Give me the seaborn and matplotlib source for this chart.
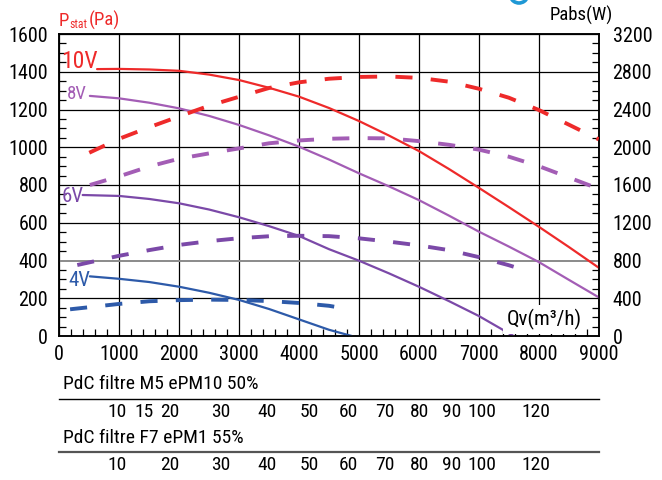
import matplotlib
matplotlib.use("Agg")
import matplotlib.pyplot as plt
from matplotlib import font_manager
from matplotlib.ticker import MultipleLocator
from matplotlib.patches import Arc
from matplotlib.transforms import IdentityTransform
import pandas as pd
import seaborn as sns

# ---------------- static pressure curves (Pa) vs air flow (m3/h) ----------------
qv_10v = [630, 1000, 1500, 2000, 2500, 3000, 3500, 4000, 4500, 5000, 5500, 6000,
          6500, 7000, 7500, 8000, 8500, 9000]
pstat_10v = [1414, 1415, 1412, 1405, 1385, 1356, 1315, 1268, 1208, 1139, 1062, 980,
             885, 785, 683, 579, 472, 362]

qv_8v = [510, 1000, 1500, 2000, 2500, 3000, 3500, 4000, 4500, 5000, 5500, 6000,
         6500, 7000, 7500, 8000, 8500, 9000]
pstat_8v = [1272, 1259, 1236, 1206, 1166, 1118, 1063, 1003, 935, 862, 793, 720,
            638, 553, 474, 392, 298, 205]

qv_6v = [390, 1000, 1500, 2000, 2500, 3000, 3500, 4000, 4500, 5000, 5500, 6000,
         6500, 7000, 7580]
pstat_6v = [747, 742, 726, 703, 670, 629, 582, 530, 460, 399, 332, 261, 185, 106, 0]

qv_4v = [510, 1000, 1500, 2000, 2500, 3000, 3500, 4000, 4500, 4880]
pstat_4v = [316, 303, 286, 261, 229, 191, 143, 88, 33, 0]

# ---------------- absorbed power curves (W) vs air flow (m3/h) ----------------
qv_pabs_10v = [500, 1000, 1500, 2000, 2500, 3000, 3500, 4000, 4500, 5000, 5500, 6000,
               6500, 7000, 7500, 8000, 8500, 9000]
pabs_10v = [1942, 2090, 2212, 2327, 2440, 2535, 2628, 2688, 2726, 2745, 2750, 2735,
            2695, 2620, 2525, 2395, 2240, 2084]

qv_pabs_8v = [510, 1000, 1500, 2000, 2500, 3000, 3500, 4000, 4500, 5000, 5500, 6000,
              6500, 7000, 7500, 8000, 8500, 9000]
pabs_8v = [1600, 1692, 1796, 1879, 1935, 1988, 2042, 2072, 2090, 2097, 2094, 2065,
           2026, 1975, 1900, 1800, 1680, 1560]

qv_pabs_6v = [300, 1000, 1500, 2000, 2500, 3000, 3500, 4000, 4500, 5000, 5500, 6000,
              6500, 7000, 7500, 7650]
pabs_6v = [752, 850, 910, 965, 1005, 1036, 1057, 1062, 1058, 1035, 1000, 960,
           910, 836, 750, 720]

qv_pabs_4v = [180, 1000, 1500, 2000, 2500, 3000, 3500, 4000, 4500, 4750]
pabs_4v = [283, 340, 368, 380, 385, 382, 370, 350, 320, 293]

# ---------------- filter pressure-drop scales ----------------
m5_pdc = ["10", "15", "20", "30", "40", "50", "60", "70", "80", "90", "100", "120"]
m5_qv = [968, 1413, 1848, 2693, 3461, 4172, 4822, 5436, 6007, 6551, 7043, 7946]
f7_pdc = ["10", "", "20", "30", "40", "50", "60", "70", "80", "90", "100", "120"]
f7_qv = [968, 1413, 1848, 2693, 3461, 4172, 4822, 5436, 6007, 6551, 7043, 7946]

curve_names = ["10V", "8V", "6V", "4V"]
x_ticks = [0, 1000, 2000, 3000, 4000, 5000, 6000, 7000, 8000, 9000]
y_ticks = [0, 200, 400, 600, 800, 1000, 1200, 1400, 1600]
y2_ticks = [0, 400, 800, 1200, 1600, 2000, 2400, 2800, 3200]

COLORS = {"10V": "#ee2a2a", "8V": "#a35db5", "6V": "#7b49a8", "4V": "#2d5aa9"}

sns.set_theme(style="white")


def pick_font():
    for fam in ["Liberation Sans Narrow", "Roboto Condensed", "DejaVu Sans"]:
        try:
            font_manager.findfont(font_manager.FontProperties(family=fam),
                                  fallback_to_default=False)
            return fam
        except Exception:
            continue
    return "DejaVu Sans"


FONT = pick_font()
plt.rcParams["font.family"] = [FONT, "DejaVu Sans"]
plt.rcParams["axes.edgecolor"] = "black"
plt.rcParams["xtick.color"] = "black"
plt.rcParams["ytick.color"] = "black"
plt.rcParams["text.color"] = "black"

W, H = 662, 480
fig = plt.figure(figsize=(W / 100, H / 100), dpi=100)
fig.patch.set_facecolor("white")


def fx(px):
    return px / W


def fy(py):
    return 1 - py / H


X0, X1, Y0, Y1 = 59.3, 598.7, 336.0, 34.0
ax = fig.add_axes([fx(X0), fy(Y0), fx(X1) - fx(X0), fy(Y1) - fy(Y0)])
ax2 = ax.twinx()

solid = {"10V": (qv_10v, pstat_10v), "8V": (qv_8v, pstat_8v),
         "6V": (qv_6v, pstat_6v), "4V": (qv_4v, pstat_4v)}
dashed = {"10V": (qv_pabs_10v, pabs_10v), "8V": (qv_pabs_8v, pabs_8v),
          "6V": (qv_pabs_6v, pabs_6v), "4V": (qv_pabs_4v, pabs_4v)}

for name in curve_names:
    q, p = solid[name]
    df = pd.DataFrame({"qv": q, "val": p})
    sns.lineplot(data=df, x="qv", y="val", ax=ax, color=COLORS[name], lw=1.6,
                 errorbar=None, zorder=3)
    q, p = dashed[name]
    df = pd.DataFrame({"qv": q, "val": p})
    sns.lineplot(data=df, x="qv", y="val", ax=ax2, color=COLORS[name], lw=2.8,
                 linestyle=(0, (4.4, 4.7)), errorbar=None, zorder=3)

# pressure axis (left)
ax.set_xlim(0, 9000)
ax.set_ylim(0, 1600)
ax.set_xticks(x_ticks)
ax.set_yticks(y_ticks)
ax.xaxis.set_minor_locator(MultipleLocator(200))
ax.yaxis.set_minor_locator(MultipleLocator(50))
ax.set_xlabel("")
ax.set_ylabel("")
ax.tick_params(which="major", length=0, labelsize=14.5)
ax.tick_params(axis="x", which="major", pad=6.5)
ax.tick_params(axis="y", which="major", pad=8)
ax.tick_params(which="minor", direction="in", length=5, width=0.9,
               top=False, right=False, bottom=True, left=True)
ax.grid(True, which="major", color="black", lw=0.9)
ax.set_axisbelow(True)
for t, v in zip(ax.yaxis.get_major_ticks(), y_ticks):
    if v == 400:
        t.gridline.set_color("#8a8a8a")
        t.gridline.set_linewidth(1.4)
for s in ax.spines.values():
    s.set_color("black")
    s.set_linewidth(1.1)

# power axis (right)
ax2.set_ylim(0, 3200)
ax2.set_yticks(y2_ticks)
ax2.yaxis.set_minor_locator(MultipleLocator(100))
ax2.set_ylabel("")
ax2.tick_params(axis="y", which="major", length=0, labelsize=14.5, pad=10)
ax2.tick_params(axis="y", which="minor", direction="in", length=5, width=0.9)
ax2.grid(False)
for s in ax2.spines.values():
    s.set_color("black")
    s.set_linewidth(1.1)

# curve labels
label_pos = {"10V": (79, 61, 17), "8V": (77, 94, 13.5), "6V": (73, 196, 15), "4V": (79, 280, 15)}
for name in curve_names:
    x, y, size = label_pos[name]
    fig.text(fx(x), fy(y), name, color=COLORS[name], fontsize=size,
             ha="center", va="center")

# axis titles
red = COLORS["10V"]
fig.text(fx(59), fy(26), "P", color=red, fontsize=13.5, ha="left", va="baseline")
fig.text(fx(69), fy(28.5), "stat", color=red, fontsize=8.5, ha="left", va="baseline")
fig.text(fx(89), fy(26), "(Pa)", color=red, fontsize=13.5, ha="left", va="baseline")
fig.text(fx(550), fy(21), "Pabs(W)", fontsize=13.5, ha="left", va="baseline")
fig.text(fx(544), fy(319.5), "Qv(m\u00b3/h)", fontsize=15, ha="center", va="center",
         bbox=dict(facecolor="white", edgecolor="none", pad=2.5), zorder=5)

# small blue mark at the top edge
fig.add_artist(Arc((519, 480 + 6.0), 18, 18, theta1=200, theta2=340,
                   transform=IdentityTransform(), color="#1f98d5", lw=2.6))

# filter pressure-drop scales
scales = [("PdC filtre M5 ePM10 50%", m5_qv, m5_pdc, 399.3, 389, "black", 1.0),
          ("PdC filtre F7 ePM1 55%", f7_qv, f7_pdc, 451.7, 443, "#555555", 1.6)]
for title, qpos, labels, line_y, text_y, lcol, lw in scales:
    fax = fig.add_axes([fx(X0), fy(line_y), fx(X1) - fx(X0), 0.0005])
    fax.set_xlim(0, 9000)
    fax.set_ylim(0, 1)
    fax.patch.set_alpha(0)
    for side in ["left", "right", "top"]:
        fax.spines[side].set_visible(False)
    fax.spines["bottom"].set_color(lcol)
    fax.spines["bottom"].set_linewidth(lw)
    fax.set_yticks([])
    fax.set_xticks(qpos)
    fax.set_xticklabels(labels)
    fax.tick_params(axis="x", direction="in", length=5.5, width=0.9, color="black",
                    labelsize=14, pad=3)
    fax.grid(False)
    fig.text(fx(63), fy(text_y), title, fontsize=14, ha="left", va="baseline")

fig.savefig("out.png", dpi=100, facecolor="white")
